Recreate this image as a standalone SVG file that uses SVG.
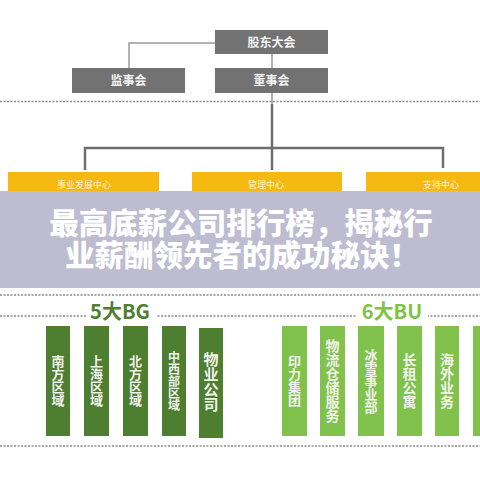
<svg xmlns="http://www.w3.org/2000/svg" width="480" height="480" viewBox="0 0 480 480">
<style>
.gray{fill:#727272}
.gt{font-family:"Noto Sans CJK SC","Noto Sans",sans-serif;font-size:12px;font-weight:bold;fill:#f4f4f4;text-anchor:middle}
.org{fill:#F6B912}
.ot{font-family:"Noto Sans CJK SC","Noto Sans",sans-serif;font-size:9px;fill:#fdf3d6;text-anchor:middle}
.dg{fill:#4E7E2F}
.lg{fill:#80C24B}
.vt{font-family:"Noto Sans CJK SC","Noto Sans",sans-serif;font-size:13px;font-weight:bold;fill:#f2f2ee;text-anchor:middle;writing-mode:vertical-rl}
.dash{stroke:#8a8888;stroke-width:1.5;stroke-dasharray:2 1.5;fill:none}
.thin{stroke:#9a9a9a;stroke-width:1.5;fill:none}
.thick{stroke:#6e6e6e;stroke-width:2.5;fill:none}
.title{font-family:"Noto Sans CJK SC","Noto Sans",sans-serif;font-size:29.5px;font-weight:900;fill:#ffffff;text-anchor:middle}
.hd{font-family:"Noto Sans CJK SC","Noto Sans",sans-serif;font-size:20px;font-weight:bold;text-anchor:middle}
</style>
<rect width="480" height="480" fill="#ffffff"/>
<g id="connectors">
<polyline class="thin" points="215,43 129,43 129,68"/>
<line class="thin" x1="272" y1="54" x2="272" y2="68"/>
<line class="thin" x1="272" y1="93" x2="272" y2="104"/>
<line class="thick" x1="272" y1="104" x2="272" y2="170"/>
<polyline class="thick" points="85,170 85,148 443,148 443,168"/>
</g>
<g id="dividers">
<line class="dash" x1="0" y1="101.5" x2="480" y2="101.5"/>
<line class="dash" x1="0" y1="295" x2="480" y2="295"/>
<line class="dash" x1="0" y1="316" x2="480" y2="316"/>
<line class="dash" x1="0" y1="446" x2="480" y2="446"/>
</g>
<g id="n-gudong"><rect class="gray" x="215" y="30" width="113" height="24"/><text class="gt" x="271.5" y="46.5">股东大会</text></g>
<g id="n-jianshi"><rect class="gray" x="72" y="68" width="113" height="25"/><text class="gt" x="128.5" y="85">监事会</text></g>
<g id="n-dongshi"><rect class="gray" x="215" y="68" width="113" height="25"/><text class="gt" x="271.5" y="85">董事会</text></g>
<g id="n-shiye"><rect class="org" x="8" y="172" width="151" height="24"/><text class="ot" x="84" y="188">事业发展中心</text></g>
<g id="n-guanli"><rect class="org" x="192" y="172" width="150" height="24"/><text class="ot" x="266" y="188">管理中心</text></g>
<g id="n-zhichi"><rect class="org" x="366" y="172" width="114" height="24"/><text class="ot" x="441" y="188">支持中心</text></g>
<g id="banner">
<rect x="0" y="191" width="480" height="97" fill="#BDBCD1"/>
<text class="title"><tspan x="241" y="234">最高底薪公司排行榜，揭秘行</tspan><tspan x="242" y="266">业薪酬领先者的成功秘诀！</tspan></text>
</g>
<g id="h-bg"><rect x="86" y="302" width="70" height="20" fill="#ffffff"/><text class="hd" x="120" y="319" fill="#4E7E2F">5大BG</text></g>
<g id="h-bu"><rect x="356" y="302" width="72" height="20" fill="#ffffff"/><text class="hd" x="392" y="319" fill="#7DC242">6大BU</text></g>
<g id="bg1"><rect class="dg" x="46" y="326" width="24" height="110"/><text class="vt" x="58" y="381">南方区域</text></g>
<g id="bg2"><rect class="dg" x="84" y="326" width="25" height="110"/><text class="vt" x="96.5" y="381">上海区域</text></g>
<g id="bg3"><rect class="dg" x="123" y="326" width="25" height="110"/><text class="vt" x="135.5" y="381">北方区域</text></g>
<g id="bg4"><rect class="dg" x="162" y="326" width="24" height="110"/><text class="vt" style="font-size:12px" x="174" y="381">中西部区域</text></g>
<g id="bg5"><rect class="dg" x="199" y="328" width="24" height="110"/><text class="vt" style="font-size:15px" x="211" y="382">物业公司</text></g>
<g id="bu1"><rect class="lg" x="282" y="326" width="25" height="110"/><text class="vt" x="294.5" y="381">印力集团</text></g>
<g id="bu2"><rect class="lg" x="320" y="326" width="25" height="110"/><text class="vt" style="font-size:14px" x="332.5" y="381">物流仓储服务</text></g>
<g id="bu3"><rect class="lg" x="358" y="326" width="26" height="110"/><text class="vt" x="371" y="381">冰雪事业部</text></g>
<g id="bu4"><rect class="lg" x="397" y="326" width="25" height="110"/><text class="vt" style="font-size:14px" x="409.5" y="381">长租公寓</text></g>
<g id="bu5"><rect class="lg" x="435" y="326" width="24" height="110"/><text class="vt" style="font-size:14px" x="447" y="381">海外业务</text></g>
<g id="bu6"><rect class="lg" x="473" y="326" width="25" height="110"/></g>
</svg>
